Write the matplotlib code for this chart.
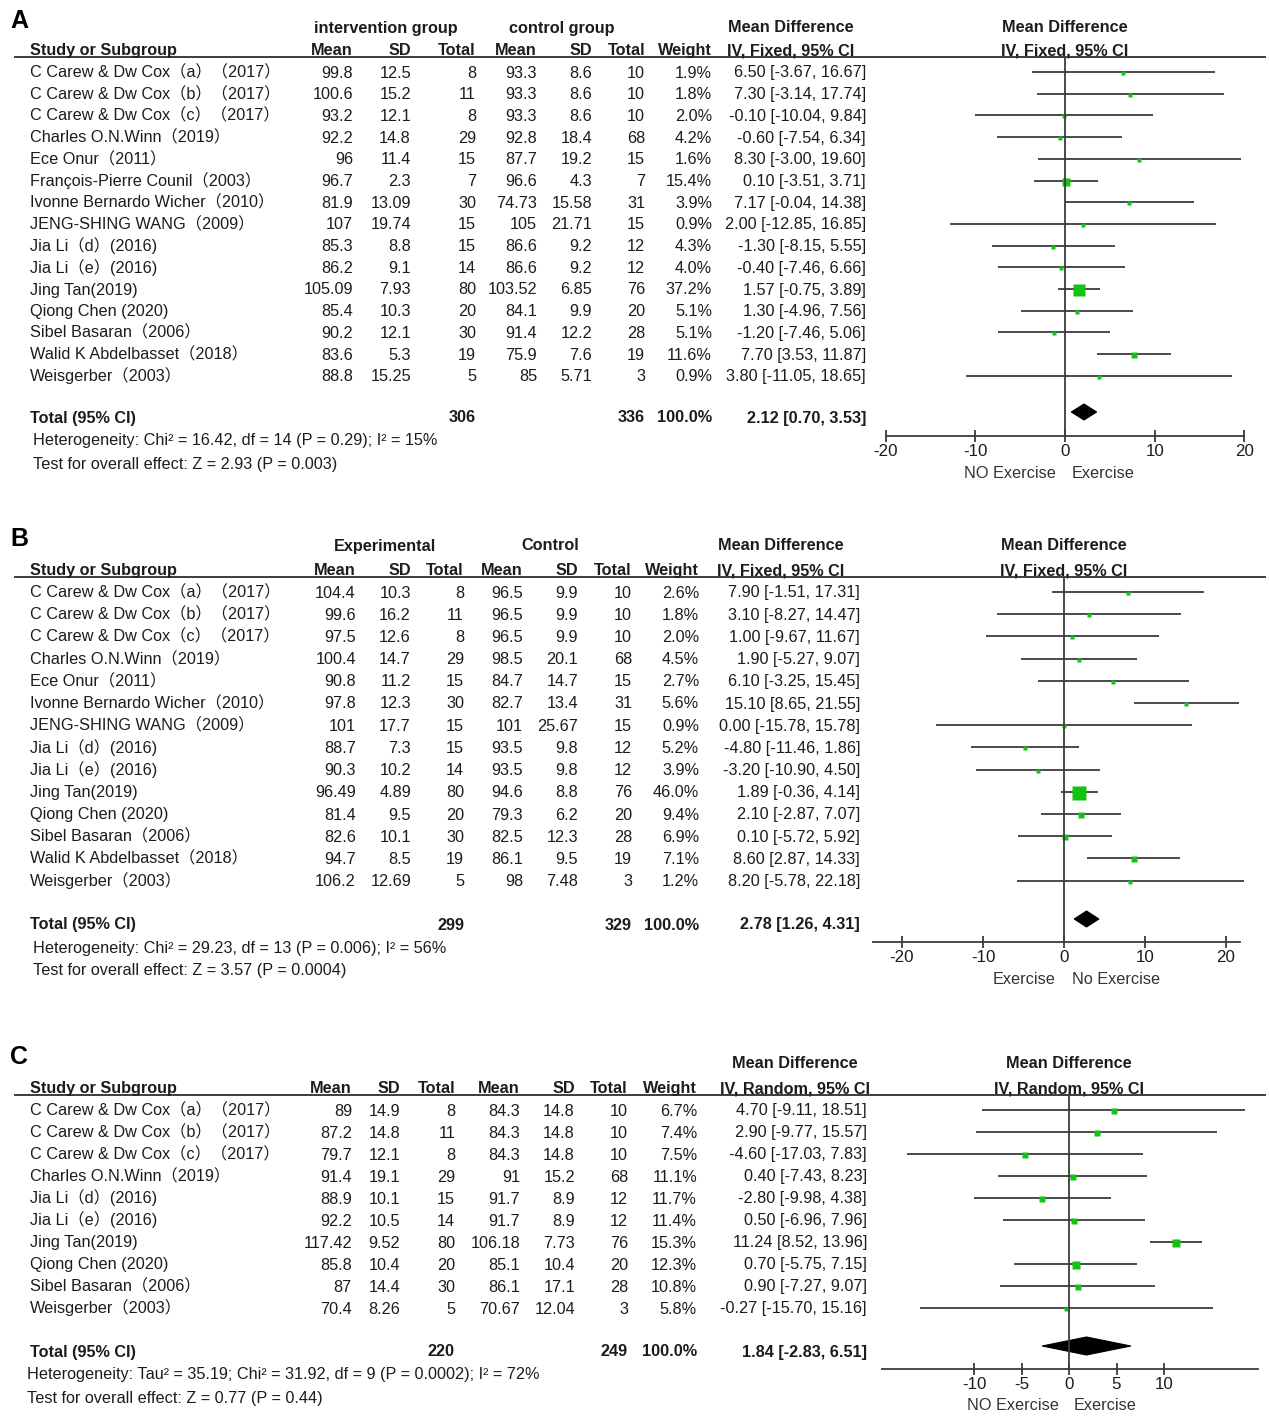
import matplotlib
matplotlib.use('Agg')
import matplotlib.pyplot as plt
from matplotlib.patches import Polygon
import numpy as np

plt.rcParams['font.family'] = ['Liberation Sans', 'Noto Sans CJK SC']

W, H = 1269, 1417
TXT = '#1c1c1c'
LINE = '#3c3c3c'
GREEN = '#12c312'
FS = 11.7
BL = 5.5  # baseline offset below a row centre, px

# ---------------- A: intervention vs control ----------------
a_study = ['C Carew & Dw Cox（a）（2017）', 'C Carew & Dw Cox（b）（2017）', 'C Carew & Dw Cox（c）（2017）',
           'Charles O.N.Winn（2019）', 'Ece Onur（2011）', 'François-Pierre Counil（2003）',
           'Ivonne Bernardo Wicher（2010）', 'JENG-SHING WANG（2009）', 'Jia Li（d）(2016)', 'Jia Li（e）(2016)',
           'Jing Tan(2019)', 'Qiong Chen (2020)', 'Sibel Basaran（2006）', 'Walid K Abdelbasset（2018）',
           'Weisgerber（2003）']
a_mean1 = [99.8, 100.6, 93.2, 92.2, 96, 96.7, 81.9, 107, 85.3, 86.2, 105.09, 85.4, 90.2, 83.6, 88.8]
a_sd1 = [12.5, 15.2, 12.1, 14.8, 11.4, 2.3, 13.09, 19.74, 8.8, 9.1, 7.93, 10.3, 12.1, 5.3, 15.25]
a_n1 = [8, 11, 8, 29, 15, 7, 30, 15, 15, 14, 80, 20, 30, 19, 5]
a_mean2 = [93.3, 93.3, 93.3, 92.8, 87.7, 96.6, 74.73, 105, 86.6, 86.6, 103.52, 84.1, 91.4, 75.9, 85]
a_sd2 = [8.6, 8.6, 8.6, 18.4, 19.2, 4.3, 15.58, 21.71, 9.2, 9.2, 6.85, 9.9, 12.2, 7.6, 5.71]
a_n2 = [10, 10, 10, 68, 15, 7, 31, 15, 12, 12, 76, 20, 28, 19, 3]
a_weight = [1.9, 1.8, 2.0, 4.2, 1.6, 15.4, 3.9, 0.9, 4.3, 4.0, 37.2, 5.1, 5.1, 11.6, 0.9]
a_md = [6.50, 7.30, -0.10, -0.60, 8.30, 0.10, 7.17, 2.00, -1.30, -0.40, 1.57, 1.30, -1.20, 7.70, 3.80]
a_lo = [-3.67, -3.14, -10.04, -7.54, -3.00, -3.51, -0.04, -12.85, -8.15, -7.46, -0.75, -4.96, -7.46, 3.53, -11.05]
a_hi = [16.67, 17.74, 9.84, 6.34, 19.60, 3.71, 14.38, 16.85, 5.55, 6.66, 3.89, 7.56, 5.06, 11.87, 18.65]
a_total = (306, 336, 2.12, 0.70, 3.53)
a_het = 'Heterogeneity: Chi² = 16.42, df = 14 (P = 0.29); I² = 15%'
a_test = 'Test for overall effect: Z = 2.93 (P = 0.003)'

# ---------------- B: experimental vs control ----------------
b_study = ['C Carew & Dw Cox（a）（2017）', 'C Carew & Dw Cox（b）（2017）', 'C Carew & Dw Cox（c）（2017）',
           'Charles O.N.Winn（2019）', 'Ece Onur（2011）', 'Ivonne Bernardo Wicher（2010）',
           'JENG-SHING WANG（2009）', 'Jia Li（d）(2016)', 'Jia Li（e）(2016)', 'Jing Tan(2019)',
           'Qiong Chen (2020)', 'Sibel Basaran（2006）', 'Walid K Abdelbasset（2018）', 'Weisgerber（2003）']
b_mean1 = [104.4, 99.6, 97.5, 100.4, 90.8, 97.8, 101, 88.7, 90.3, 96.49, 81.4, 82.6, 94.7, 106.2]
b_sd1 = [10.3, 16.2, 12.6, 14.7, 11.2, 12.3, 17.7, 7.3, 10.2, 4.89, 9.5, 10.1, 8.5, 12.69]
b_n1 = [8, 11, 8, 29, 15, 30, 15, 15, 14, 80, 20, 30, 19, 5]
b_mean2 = [96.5, 96.5, 96.5, 98.5, 84.7, 82.7, 101, 93.5, 93.5, 94.6, 79.3, 82.5, 86.1, 98]
b_sd2 = [9.9, 9.9, 9.9, 20.1, 14.7, 13.4, 25.67, 9.8, 9.8, 8.8, 6.2, 12.3, 9.5, 7.48]
b_n2 = [10, 10, 10, 68, 15, 31, 15, 12, 12, 76, 20, 28, 19, 3]
b_weight = [2.6, 1.8, 2.0, 4.5, 2.7, 5.6, 0.9, 5.2, 3.9, 46.0, 9.4, 6.9, 7.1, 1.2]
b_md = [7.90, 3.10, 1.00, 1.90, 6.10, 15.10, 0.00, -4.80, -3.20, 1.89, 2.10, 0.10, 8.60, 8.20]
b_lo = [-1.51, -8.27, -9.67, -5.27, -3.25, 8.65, -15.78, -11.46, -10.90, -0.36, -2.87, -5.72, 2.87, -5.78]
b_hi = [17.31, 14.47, 11.67, 9.07, 15.45, 21.55, 15.78, 1.86, 4.50, 4.14, 7.07, 5.92, 14.33, 22.18]
b_total = (299, 329, 2.78, 1.26, 4.31)
b_het = 'Heterogeneity: Chi² = 29.23, df = 13 (P = 0.006); I² = 56%'
b_test = 'Test for overall effect: Z = 3.57 (P = 0.0004)'

# ---------------- C: random effects ----------------
c_study = ['C Carew & Dw Cox（a）（2017）', 'C Carew & Dw Cox（b）（2017）', 'C Carew & Dw Cox（c）（2017）',
           'Charles O.N.Winn（2019）', 'Jia Li（d）(2016)', 'Jia Li（e）(2016)', 'Jing Tan(2019)',
           'Qiong Chen (2020)', 'Sibel Basaran（2006）', 'Weisgerber（2003）']
c_mean1 = [89, 87.2, 79.7, 91.4, 88.9, 92.2, 117.42, 85.8, 87, 70.4]
c_sd1 = [14.9, 14.8, 12.1, 19.1, 10.1, 10.5, 9.52, 10.4, 14.4, 8.26]
c_n1 = [8, 11, 8, 29, 15, 14, 80, 20, 30, 5]
c_mean2 = [84.3, 84.3, 84.3, 91, 91.7, 91.7, 106.18, 85.1, 86.1, 70.67]
c_sd2 = [14.8, 14.8, 14.8, 15.2, 8.9, 8.9, 7.73, 10.4, 17.1, 12.04]
c_n2 = [10, 10, 10, 68, 12, 12, 76, 20, 28, 3]
c_weight = [6.7, 7.4, 7.5, 11.1, 11.7, 11.4, 15.3, 12.3, 10.8, 5.8]
c_md = [4.70, 2.90, -4.60, 0.40, -2.80, 0.50, 11.24, 0.70, 0.90, -0.27]
c_lo = [-9.11, -9.77, -17.03, -7.43, -9.98, -6.96, 8.52, -5.75, -7.27, -15.70]
c_hi = [18.51, 15.57, 7.83, 8.23, 4.38, 7.96, 13.96, 7.15, 9.07, 15.16]
c_total = (220, 249, 1.84, -2.83, 6.51)
c_het = 'Heterogeneity: Tau² = 35.19; Chi² = 31.92, df = 9 (P = 0.0002); I² = 72%'
c_test = 'Test for overall effect: Z = 0.77 (P = 0.44)'

col_names = ['Mean', 'SD', 'Total', 'Mean', 'SD', 'Total', 'Weight']


def panel(fig, base, letter, groups, method, cols, study, m1, s1, n1, m2, s2, n2, wt, md, lo, hi,
          total, het, test, lay):
    t = dict(color=TXT, fontsize=FS, va='baseline')
    base.text(10, lay['top'] + 1, letter, fontsize=18, fontweight='bold', va='baseline', color='black')
    # group headers
    gy = lay['top'] + BL
    for label, xc in groups:
        base.text(xc, gy, label, ha='center', fontweight='bold', **t)
    base.text(lay['ci_c'], gy, 'Mean Difference', ha='center', fontweight='bold', **t)
    base.text(lay['zero'], gy, 'Mean Difference', ha='center', fontweight='bold', **t)

    # column headers sitting on the rule
    hy = lay['rule'] - 2
    base.text(30, hy, 'Study or Subgroup', fontweight='bold', **t)
    for name, xr in zip(col_names, cols):
        base.text(xr, hy, name, ha='right', fontweight='bold', **t)
    base.text(lay['ci_c'], hy, method, ha='center', fontweight='bold', **t)
    base.text(lay['zero'], hy, method, ha='center', fontweight='bold', **t)
    base.plot([15, 1265], [lay['rule'], lay['rule']], color=LINE, lw=1.4)

    rows = lay['y0'] + lay['dy'] * np.arange(len(study))
    for i, y in enumerate(rows):
        yb = y + BL
        base.text(30, yb, study[i], **t)
        vals = [f'{m1[i]:g}', f'{s1[i]:g}', f'{n1[i]}', f'{m2[i]:g}', f'{s2[i]:g}', f'{n2[i]}',
                f'{wt[i]:.1f}%']
        for v, xr in zip(vals, cols):
            base.text(xr, yb, v, ha='right', **t)
        base.text(lay['ci_r'], yb, f'{md[i]:.2f} [{lo[i]:.2f}, {hi[i]:.2f}]', ha='right', **t)

    # pooled row and statistics
    ty = lay['total'] + BL
    base.text(30, ty, 'Total (95% CI)', fontweight='bold', **t)
    base.text(cols[2], ty, str(total[0]), ha='right', fontweight='bold', **t)
    base.text(cols[5], ty, str(total[1]), ha='right', fontweight='bold', **t)
    base.text(cols[6], ty, '100.0%', ha='right', fontweight='bold', **t)
    base.text(lay['ci_r'], ty, f'{total[2]:.2f} [{total[3]:.2f}, {total[4]:.2f}]', ha='right',
              fontweight='bold', **t)
    base.text(lay['stat_x'], ty + 23, het, **t)
    base.text(lay['stat_x'], ty + 46, test, **t)

    # forest plot in mean-difference units
    fx0 = 862
    ax = fig.add_axes([fx0 / W, 0, (W - fx0) / W, 1])
    ax.set_facecolor('none')
    ax.set_xlim((fx0 - lay['zero']) / lay['scale'], (W - lay['zero']) / lay['scale'])
    ax.set_ylim(H, 0)
    for y, m, l, h, w in zip(rows, md, lo, hi, wt):
        ax.plot([l, h], [y, y], color=LINE, lw=1.3, solid_capstyle='butt')
        side = max(5.0, 2.0 * np.sqrt(w))
        ax.plot(m, y + 1, marker='s', ms=side * 0.72, color=GREEN, mec='none')
    ax.vlines(0, lay['rule'], lay['axis'], color=LINE, lw=1.3)
    dh = lay['dh']
    dy_ = lay['diamond']
    ax.add_patch(Polygon([(total[3], dy_), (total[2], dy_ - dh), (total[4], dy_), (total[2], dy_ + dh)],
                         closed=True, facecolor='black', edgecolor='black', lw=0.8))

    for s in ['top', 'left', 'right']:
        ax.spines[s].set_visible(False)
    ax.spines['bottom'].set_position(('data', lay['axis']))
    ax.spines['bottom'].set_bounds(*lay['bounds'])
    ax.spines['bottom'].set_color(LINE)
    ax.spines['bottom'].set_linewidth(1.3)
    ax.set_yticks([])
    ax.set_xticks(lay['ticks'])
    ax.set_xticklabels([f'{v:g}' for v in lay['ticks']])
    ax.tick_params(axis='x', direction='inout', length=8, width=1.3, color=LINE,
                   labelsize=FS + 0.5, labelcolor=TXT, pad=2)
    left_lab, right_lab = lay['favours']
    fy = lay['axis'] + 36 + BL
    base.text(lay['fav_l'], fy, left_lab, ha='center', va='baseline', color='#333333', fontsize=FS)
    base.text(lay['fav_r'], fy, right_lab, ha='center', va='baseline', color='#333333', fontsize=FS)


fig = plt.figure(figsize=(W / 100, H / 100), dpi=100)
base = fig.add_axes([0, 0, 1, 1])
base.set_xlim(0, W)
base.set_ylim(H, 0)
base.axis('off')

panel(fig, base, 'A', [('intervention group', 386), ('control group', 562)], 'IV, Fixed, 95% CI',
      [353, 411, 476, 537, 592, 645, 712],
      a_study, a_mean1, a_sd1, a_n1, a_mean2, a_sd2, a_n2, a_weight, a_md, a_lo, a_hi,
      a_total, a_het, a_test,
      dict(top=27, rule=57, y0=72, dy=21.7, total=417, axis=436, diamond=412, dh=8, stat_x=33,
           ci_c=791, ci_r=866, zero=1065, scale=8.97, ticks=[-20, -10, 0, 10, 20], bounds=(-20, 20),
           favours=('NO Exercise', 'Exercise'), fav_l=1010, fav_r=1103))

panel(fig, base, 'B', [('Experimental', 385), ('Control', 550)], 'IV, Fixed, 95% CI',
      [356, 411, 464, 523, 578, 632, 699],
      b_study, b_mean1, b_sd1, b_n1, b_mean2, b_sd2, b_n2, b_weight, b_md, b_lo, b_hi,
      b_total, b_het, b_test,
      dict(top=545, rule=577, y0=592, dy=22.2, total=924, axis=942, diamond=919, dh=8, stat_x=33,
           ci_c=781, ci_r=860, zero=1064, scale=8.1, ticks=[-20, -10, 0, 10, 20], bounds=(-23.6, 21.7),
           favours=('Exercise', 'No Exercise'), fav_l=1024, fav_r=1116))

panel(fig, base, 'C', [], 'IV, Random, 95% CI',
      [352, 400, 455, 520, 575, 628, 697],
      c_study, c_mean1, c_sd1, c_n1, c_mean2, c_sd2, c_n2, c_weight, c_md, c_lo, c_hi,
      c_total, c_het, c_test,
      dict(top=1063, rule=1095, y0=1110, dy=22, total=1351, axis=1369, diamond=1346, dh=9, stat_x=27,
           ci_c=795, ci_r=867, zero=1069, scale=9.5, ticks=[-10, -5, 0, 5, 10], bounds=(-19.7, 19.9),
           favours=('NO Exercise', 'Exercise'), fav_l=1013, fav_r=1105))

fig.savefig('out.png', dpi=100, facecolor='white')
